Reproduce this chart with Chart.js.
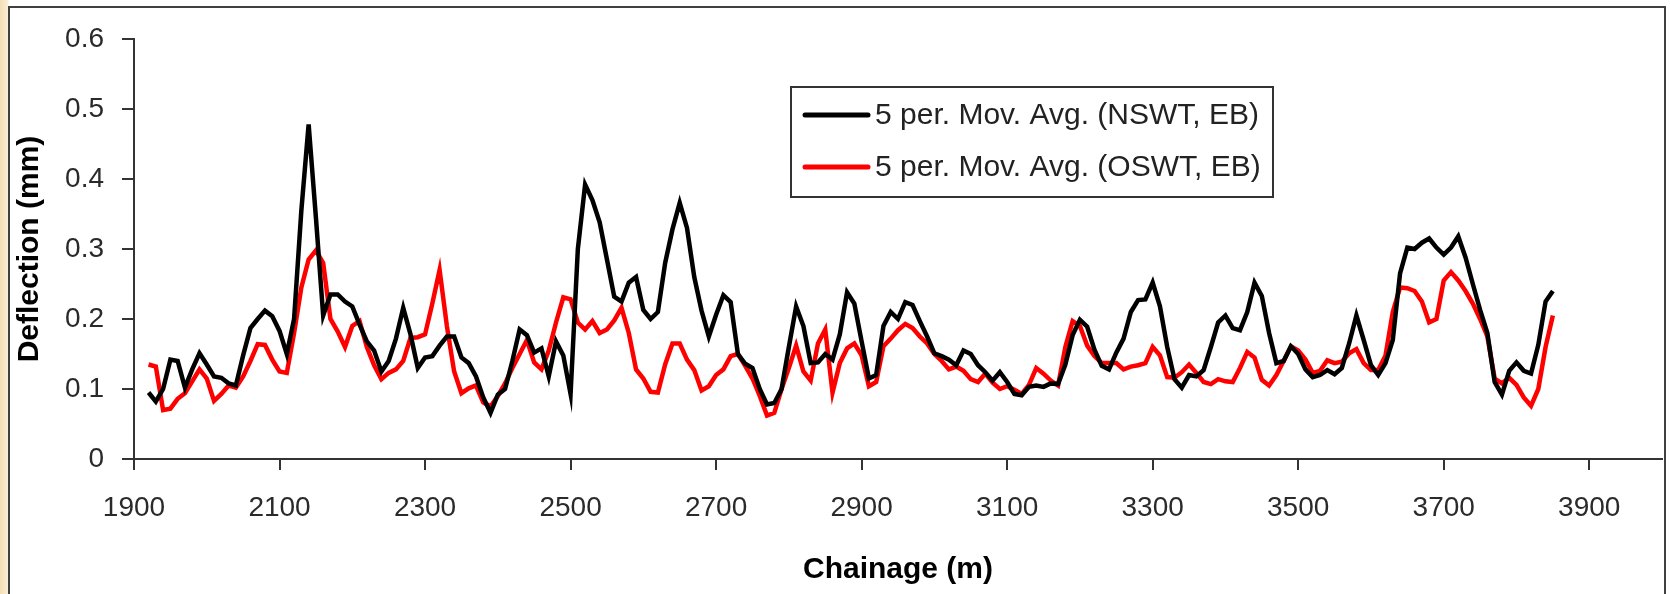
<!DOCTYPE html>
<html>
<head>
<meta charset="utf-8">
<title>Deflection vs Chainage</title>
<script src="https://cdn.jsdelivr.net/npm/chart.js@4/dist/chart.umd.min.js"></script>
<style>
  html, body { margin: 0; padding: 0; }
  body {
    width: 1670px; height: 594px; overflow: hidden; position: relative;
    background: linear-gradient(to right, #f4dfb4 0, #fbefd6 8px, #ffffff 9px);
  }
  #frame {
    position: absolute; left: 8px; top: 6px; width: 1654px; height: 620px;
    border: 2px solid #404040; background: #fff;
  }
  #chartBox { position: absolute; left: 0; top: 0; width: 1670px; height: 594px; }
</style>
</head>
<body>
<div id="frame"></div>
<div id="chartBox"><canvas id="deflChart" width="1670" height="594"></canvas></div>
<script>
// ── Data ──────────────────────────────────────────────────────
const chainage = [
  1920, 1930, 1940, 1950, 1960, 1970, 1980, 1990, 2000, 2010,
  2020, 2030, 2040, 2050, 2060, 2070, 2080, 2090, 2100, 2110,
  2120, 2130, 2140, 2150, 2160, 2170, 2180, 2190, 2200, 2210,
  2220, 2230, 2240, 2250, 2260, 2270, 2280, 2290, 2300, 2310,
  2320, 2330, 2340, 2350, 2360, 2370, 2380, 2390, 2400, 2410,
  2420, 2430, 2440, 2450, 2460, 2470, 2480, 2490, 2500, 2510,
  2520, 2530, 2540, 2550, 2560, 2570, 2580, 2590, 2600, 2610,
  2620, 2630, 2640, 2650, 2660, 2670, 2680, 2690, 2700, 2710,
  2720, 2730, 2740, 2750, 2760, 2770, 2780, 2790, 2800, 2810,
  2820, 2830, 2840, 2850, 2860, 2870, 2880, 2890, 2900, 2910,
  2920, 2930, 2940, 2950, 2960, 2970, 2980, 2990, 3000, 3010,
  3020, 3030, 3040, 3050, 3060, 3070, 3080, 3090, 3100, 3110,
  3120, 3130, 3140, 3150, 3160, 3170, 3180, 3190, 3200, 3210,
  3220, 3230, 3240, 3250, 3260, 3270, 3280, 3290, 3300, 3310,
  3320, 3330, 3340, 3350, 3360, 3370, 3380, 3390, 3400, 3410,
  3420, 3430, 3440, 3450, 3460, 3470, 3480, 3490, 3500, 3510,
  3520, 3530, 3540, 3550, 3560, 3570, 3580, 3590, 3600, 3610,
  3620, 3630, 3640, 3650, 3660, 3670, 3680, 3690, 3700, 3710,
  3720, 3730, 3740, 3750, 3760, 3770, 3780, 3790, 3800, 3810,
  3820, 3830, 3840, 3850
];

// 5 per. Mov. Avg. (NSWT, EB)
const nswtDefl = [
  0.095, 0.082, 0.100, 0.142, 0.140, 0.102, 0.128, 0.151, 0.135, 0.118,
  0.116, 0.108, 0.105, 0.148, 0.187, 0.200, 0.212, 0.204, 0.183, 0.150,
  0.200, 0.355, 0.478, 0.345, 0.205, 0.235, 0.235, 0.225, 0.218, 0.192,
  0.168, 0.155, 0.125, 0.140, 0.172, 0.216, 0.178, 0.130, 0.145, 0.147,
  0.162, 0.175, 0.175, 0.145, 0.137, 0.118, 0.088, 0.066, 0.092, 0.100,
  0.140, 0.185, 0.177, 0.152, 0.158, 0.118, 0.168, 0.148, 0.093, 0.300,
  0.392, 0.370, 0.338, 0.285, 0.232, 0.225, 0.252, 0.260, 0.213, 0.200,
  0.210, 0.280, 0.328, 0.366, 0.330, 0.260, 0.212, 0.175, 0.206, 0.234,
  0.224, 0.150, 0.136, 0.130, 0.100, 0.078, 0.080, 0.100, 0.160, 0.218,
  0.190, 0.137, 0.138, 0.150, 0.142, 0.178, 0.238, 0.222, 0.168, 0.115,
  0.120, 0.190, 0.210, 0.200, 0.224, 0.220, 0.197, 0.175, 0.151, 0.147,
  0.142, 0.134, 0.155, 0.150, 0.134, 0.124, 0.112, 0.124, 0.110, 0.093,
  0.091, 0.103, 0.105, 0.103, 0.108, 0.107, 0.135, 0.177, 0.199, 0.189,
  0.156, 0.133, 0.128, 0.152, 0.172, 0.210, 0.227, 0.228, 0.252, 0.218,
  0.160, 0.114, 0.102, 0.120, 0.118, 0.127, 0.160, 0.195, 0.205, 0.187,
  0.184, 0.210, 0.252, 0.233, 0.180, 0.137, 0.140, 0.161, 0.150, 0.128,
  0.117, 0.120, 0.127, 0.121, 0.130, 0.165, 0.205, 0.170, 0.134, 0.120,
  0.137, 0.170, 0.265, 0.302, 0.300, 0.309, 0.315, 0.302, 0.292, 0.302,
  0.318, 0.288, 0.250, 0.213, 0.180, 0.110, 0.092, 0.126, 0.138, 0.126,
  0.122, 0.163, 0.225, 0.240
];

// 5 per. Mov. Avg. (OSWT, EB)
const oswtDefl = [
  0.135, 0.132, 0.070, 0.072, 0.086, 0.094, 0.111, 0.128, 0.115, 0.083,
  0.093, 0.105, 0.102, 0.118, 0.140, 0.164, 0.163, 0.142, 0.125, 0.123,
  0.180, 0.245, 0.285, 0.298, 0.280, 0.200, 0.182, 0.160, 0.190, 0.197,
  0.160, 0.134, 0.114, 0.123, 0.128, 0.140, 0.173, 0.174, 0.178, 0.222,
  0.270, 0.190, 0.125, 0.094, 0.101, 0.105, 0.081, 0.075, 0.090, 0.108,
  0.130, 0.150, 0.170, 0.138, 0.128, 0.155, 0.195, 0.231, 0.228, 0.195,
  0.185, 0.197, 0.180, 0.185, 0.198, 0.216, 0.180, 0.128, 0.115, 0.096,
  0.095, 0.135, 0.165, 0.165, 0.142, 0.127, 0.098, 0.104, 0.120, 0.128,
  0.147, 0.150, 0.133, 0.115, 0.090, 0.062, 0.066, 0.100, 0.130, 0.162,
  0.125, 0.112, 0.165, 0.185, 0.095, 0.137, 0.158, 0.165, 0.148, 0.104,
  0.110, 0.161, 0.172, 0.184, 0.193, 0.187, 0.175, 0.165, 0.150, 0.140,
  0.128, 0.132, 0.126, 0.114, 0.110, 0.122, 0.109, 0.100, 0.104, 0.099,
  0.093, 0.106, 0.130, 0.122, 0.112, 0.105, 0.160, 0.197, 0.190, 0.162,
  0.147, 0.137, 0.137, 0.137, 0.128, 0.132, 0.134, 0.137, 0.160, 0.148,
  0.117, 0.116, 0.124, 0.135, 0.123, 0.110, 0.107, 0.114, 0.111, 0.110,
  0.130, 0.153, 0.145, 0.113, 0.105, 0.120, 0.140, 0.161, 0.155, 0.142,
  0.123, 0.126, 0.141, 0.137, 0.139, 0.151, 0.157, 0.137, 0.127, 0.127,
  0.148, 0.210, 0.245, 0.244, 0.240, 0.225, 0.195, 0.200, 0.255, 0.267,
  0.255, 0.240, 0.222, 0.200, 0.175, 0.115, 0.108, 0.116, 0.106, 0.088,
  0.076, 0.100, 0.160, 0.205
];

const seriesNames = ['5 per. Mov. Avg. (NSWT, EB)', '5 per. Mov. Avg. (OSWT, EB)'];
const xTicks = [1900, 2100, 2300, 2500, 2700, 2900, 3100, 3300, 3500, 3700, 3900];
const yTicks = [0, 0.1, 0.2, 0.3, 0.4, 0.5, 0.6];

// ── Look ──────────────────────────────────────────────────────
const FONT = "'Liberation Sans', Arial, sans-serif";
const AXIS_COLOR = '#333333';

// legend drawn inside the plot like the Excel original
const boxLegend = {
    id: 'boxLegend',
    afterDraw(chart) {
        const ctx = chart.ctx;
        const x = 791, y = 87, w = 482, h = 110;
        ctx.save();
        ctx.fillStyle = '#ffffff';
        ctx.fillRect(x, y, w, h);
        ctx.strokeStyle = '#333333';
        ctx.lineWidth = 2;
        ctx.strokeRect(x, y, w, h);
        ctx.font = '30px ' + FONT;
        ctx.textBaseline = 'middle';
        ctx.textAlign = 'left';
        chart.data.datasets.forEach((ds, i) => {
            const rowY = 115 + i * 52;
            ctx.strokeStyle = ds.borderColor;
            ctx.lineWidth = 5;
            ctx.lineCap = 'round';
            ctx.beginPath();
            ctx.moveTo(805, rowY);
            ctx.lineTo(868, rowY);
            ctx.stroke();
            ctx.fillStyle = '#222222';
            ctx.fillText(ds.label, 875, rowY + 1);
        });
        ctx.restore();
    }
};

const toPoints = vals => chainage.map((c, i) => ({ x: c, y: vals[i] }));

new Chart(document.getElementById('deflChart'), {
    type: 'line',
    data: {
        datasets: [
            {
                label: seriesNames[0],
                data: toPoints(nswtDefl),
                borderColor: '#000000',
                borderWidth: 4.5,
                pointRadius: 0,
                tension: 0,
                fill: false,
            },
            {
                label: seriesNames[1],
                data: toPoints(oswtDefl),
                borderColor: '#ff0000',
                borderWidth: 4.5,
                pointRadius: 0,
                tension: 0,
                fill: false,
            },
        ],
    },
    options: {
        responsive: false,
        animation: false,
        events: [],
        layout: { padding: { left: 0, right: 8, top: 39, bottom: 0 } },
        plugins: {
            legend: { display: false },
            tooltip: { enabled: false },
        },
        scales: {
            x: {
                type: 'linear',
                min: 1900,
                max: 4000,
                afterBuildTicks: s => { s.ticks = xTicks.map(v => ({ value: v })); },
                afterFit: s => { s.height = 135; },
                border: { display: true, color: AXIS_COLOR, width: 2 },
                grid: { drawOnChartArea: false, drawTicks: true, tickLength: 11, color: AXIS_COLOR, lineWidth: 2 },
                ticks: {
                    color: '#2a2a2a', padding: 21, maxRotation: 0, autoSkip: false,
                    font: { family: FONT, size: 28 },
                    callback: v => String(v),
                },
                title: {
                    display: true, text: 'Chainage (m)', color: '#000',
                    font: { family: FONT, size: 30, weight: 'bold' },
                    padding: { top: 0, bottom: 6 },
                },
            },
            y: {
                type: 'linear',
                min: 0,
                max: 0.6,
                afterBuildTicks: s => { s.ticks = yTicks.map(v => ({ value: v })); },
                afterFit: s => { s.width = 134; },
                border: { display: true, color: AXIS_COLOR, width: 2 },
                grid: { drawOnChartArea: false, drawTicks: true, tickLength: 12, color: AXIS_COLOR, lineWidth: 2 },
                ticks: {
                    color: '#2a2a2a', padding: 18,
                    font: { family: FONT, size: 28 },
                    callback: v => (v === 0 ? '0' : Number(v).toFixed(1)),
                },
                title: {
                    display: true, text: 'Deflection (mm)', color: '#000',
                    font: { family: FONT, size: 30, weight: 'bold' },
                    padding: { top: 12, bottom: 0 },
                },
            },
        },
    },
    plugins: [boxLegend],
});
</script>
</body>
</html>
